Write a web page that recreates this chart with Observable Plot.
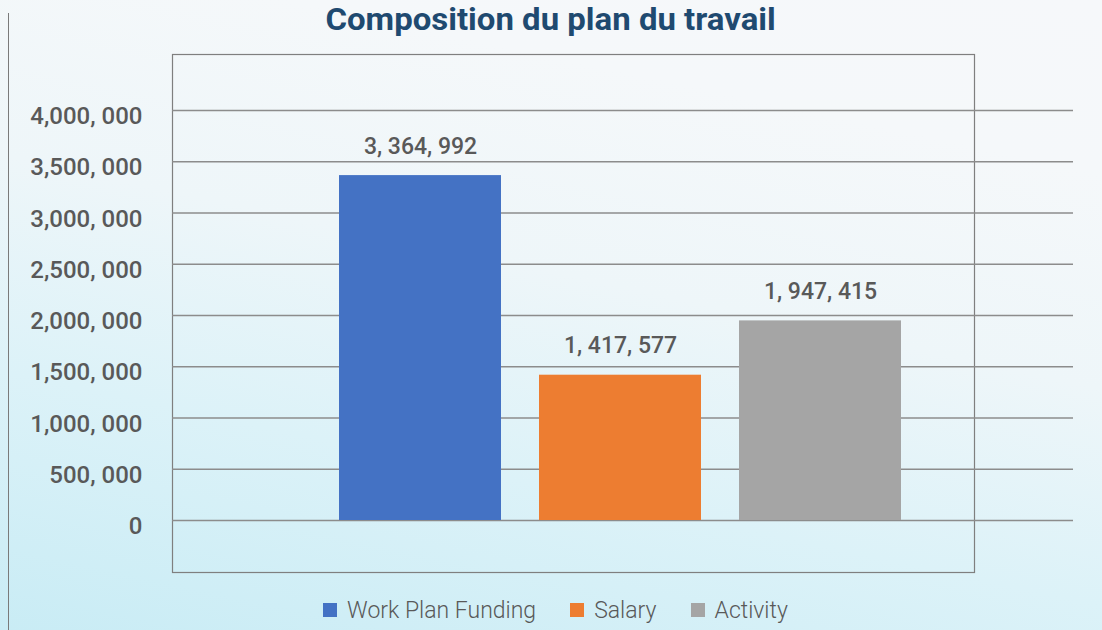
<!DOCTYPE html>
<html>
<head>
<meta charset="utf-8">
<script src="https://cdn.jsdelivr.net/npm/d3@7"></script>
<script src="https://cdn.jsdelivr.net/npm/@observablehq/plot@0.6"></script>
<style>
  html, body { margin: 0; padding: 0; }
  body {
    width: 1102px; height: 630px; overflow: hidden; position: relative;
    font-family: Roboto, "Noto Sans", sans-serif;
    background: linear-gradient(12deg, #c9ecf5 0%, #dcf2f8 30%, #eef6f9 55%, #f5f8fa 80%, #f6f8fa 100%);
  }
  #title {
    height: 34px; line-height: 34px; font-size: 32px; text-align: center; white-space: nowrap;
    font-weight: 700; color: #1f4a70;
  }
  #title span {
    display: inline-block; vertical-align: top; line-height: 38px; height: 34px;
    transform: scaleX(1.03); transform-origin: center;
  }
  #leftline {
    position: absolute; left: 8px; top: 13px; bottom: 0; width: 0;
    border-left: 1.5px solid #7a7a7a;
  }
  #chart svg { display: block; background: transparent; }
  #legend {
    height: 40px; display: flex; justify-content: center; align-items: center;
    font-size: 23px; font-weight: 300; color: #595959; padding-left: 9px; box-sizing: border-box;
  }
  .item { display: flex; align-items: center; margin: 0 17px; }
  .sw { width: 14px; height: 14px; margin-right: 10px; }
</style>
</head>
<body>
<div id="leftline"></div>
<div id="title"><span>Composition du plan du travail</span></div>
<div id="chart"></div>
<div id="legend"></div>
<script>
const categories = ["Work Plan Funding", "Salary", "Activity"];
const values = [3364992, 1417577, 1947415];
const colors = ["#4472C4", "#ED7D31", "#A5A5A5"];
const yTicks = [0, 500000, 1000000, 1500000, 2000000, 2500000, 3000000, 3500000, 4000000];

const data = categories.map((c, i) => ({cat: c, value: values[i]}));

const tickFmt = d => {
  const s = d3.format(",")(d);
  const i = s.lastIndexOf(",");
  return i < 0 ? s : s.slice(0, i) + ", " + s.slice(i + 1);
};
const labelFmt = d => d3.format(",")(d).replace(/,/g, ", ");

const chart = Plot.plot({
  width: 1102,
  height: 556,
  marginLeft: 172,
  marginRight: 128,
  marginTop: 20,
  marginBottom: 18,
  style: {background: "transparent", color: "#595959", fontFamily: "Roboto, sans-serif"},
  x: {domain: categories, range: [320, 920], paddingInner: 0.19, paddingOuter: 0.095, axis: null},
  y: {domain: [0, 4000000], range: [486, 76], axis: null},
  color: {domain: categories, range: colors},
  marks: [
    Plot.frame({stroke: "#7f7f7f", strokeWidth: 1.2}),
    Plot.ruleY(yTicks, {stroke: "#8c8c8c", strokeWidth: 1.5, insetRight: -99}),
    Plot.barY(data, {x: "cat", y: "value", fill: "cat"}),
    Plot.text(data, {x: "cat", y: "value", text: d => labelFmt(d.value), lineAnchor: "bottom", dy: -22,
      fontSize: 23, fontWeight: 500, fill: "#595959"}),
    Plot.axisY(yTicks, {tickFormat: tickFmt, tickSize: 0, tickPadding: 30, fontSize: 24, fontWeight: 500,
      fill: "#595959", label: null, dy: 6})
  ]
});
document.getElementById("chart").appendChild(chart);

const legend = document.getElementById("legend");
categories.forEach((c, i) => {
  const it = document.createElement("div");
  it.className = "item";
  const sw = document.createElement("div");
  sw.className = "sw";
  sw.style.background = colors[i];
  const t = document.createElement("span");
  t.textContent = c;
  it.appendChild(sw); it.appendChild(t);
  legend.appendChild(it);
});
</script>
</body>
</html>
